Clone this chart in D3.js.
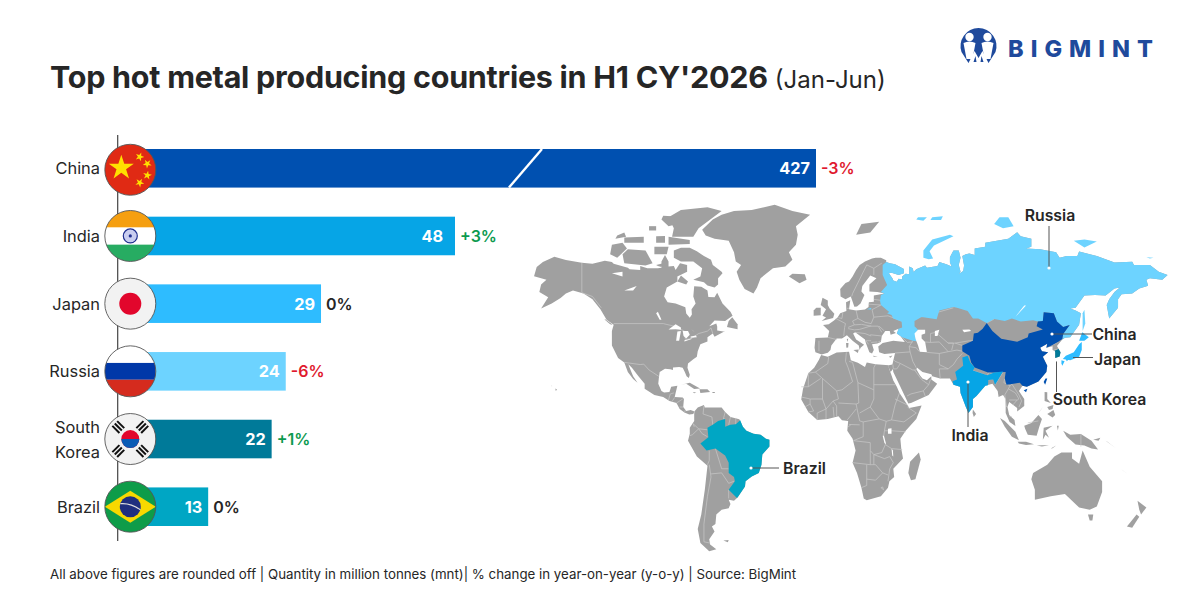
<!DOCTYPE html>
<html>
<head>
<meta charset="utf-8">
<script src="https://cdnjs.cloudflare.com/ajax/libs/d3/7.8.5/d3.min.js"></script>
<style>
  html, body { margin: 0; padding: 0; background: #fff; }
  svg { display: block; font-family: Inter, "Liberation Sans", sans-serif; }
</style>
</head>
<body>
<svg id="chart" width="1200" height="600"></svg>
<script>
// chart values
const countries = ["China", "India", "Japan", "Russia", "South Korea", "Brazil"];
const production = [427, 48, 29, 24, 22, 13];
const changes = ["-3%", "+3%", "0%", "-6%", "+1%", "0%"];
const barColors = ["#0050b0", "#06a5e6", "#2ebcff", "#6dd3ff", "#007a99", "#00a6c4"];

// map shapes, all [lon, lat]
// shared by the eurasia outline and the russia fill
const russiaCoast = [[31,69.8],[33,69.5],[36,69.2],[41,67.8],[41,66.5],[38,66],[34,66.7],[32.5,66.5],[34.5,65],[35,64.3],[37,63.9],[38,64.8],[40,64.6],[40,65.5],[42,66.4],[44,66.2],[44,68.5],[46,68],[46.5,66.9],[48,67.7],[53,68.8],[54,68.2],[60,68.7],[61,69.8],[65,69.2],[68,68.5],[67,69.7],[67,71.2],[69,73],[72,73],[73,71],[72,69],[73,67],[72,66.3],[74.5,67.2],[75,68.8],[74,71.5],[76,72],[78,72.2],[81,71.8],[81,73.5],[87,74],[87,75],[100,76],[105,77.6],[107,76.6],[113,76],[113,74],[110,73.5],[118,73.3],[127,72.5],[129,71],[133,71.5],[139,71.5],[140,72.7],[150,71.5],[160,69.7],[170,69.9],[171,69],[180,69],[185,67],[190,66],[187,64.5],[180,65],[178,64.5],[179,62.6],[174,61.7],[170,60],[164,59.8],[162,58],[162,55],[157,51],[155.6,56],[157,58],[160,60.5],[163,62],[160,61.7],[155,59.3],[149,59.5],[143,59.3],[138,55],[135,54.7],[138,54],[141,53],[140,48.5],[135,43.5],[132,43.3],[130.5,42.5]];

const land = [
  // north america
  [[-168,65.6],[-166.5,68.4],[-163,69.8],[-156.5,71.3],[-150,70.4],[-141,69.6],[-135,69.3],[-128,70.2],[-124,69.8],[-123,69.3],[-115,68.2],[-114,67.7],[-108,67.5],[-108,68.7],[-104,68],[-98,68],[-96,68.2],[-96,70],[-94,71.8],[-92,70],[-92,68.5],[-89,68.7],[-88,67.5],[-85.5,69.5],[-81.5,69],[-81.5,67],[-87,65.5],[-87,64],[-93,62],[-94.5,59],[-92.5,57],[-88,56.5],[-82.5,55.2],[-82,52.9],[-80,51.3],[-78.8,52.5],[-79,54.5],[-76.7,56.5],[-78,59],[-77.5,62.4],[-73.5,62.3],[-70,61],[-69.5,58.8],[-66,58.7],[-64.5,60.3],[-61.5,56.5],[-57,53.5],[-55.8,52],[-60,50],[-66,50.2],[-69,48],[-65,49],[-64.5,47.9],[-64.5,46.2],[-61,45.8],[-60,46],[-66,43.7],[-67,45],[-70,43.5],[-70,41.7],[-74,40.5],[-75.5,37.5],[-76,35],[-78,33.9],[-81,32],[-81.3,30],[-80,26.8],[-80.5,25.2],[-81.8,26],[-82.8,28],[-84,30],[-86,30.4],[-89.5,30.2],[-89.5,29],[-91,29.3],[-94,29.6],[-97,28],[-97.5,25],[-97.8,22.5],[-96,19],[-94.5,18.2],[-91.5,18.5],[-90.5,21],[-87,21.5],[-88,18],[-88.5,16],[-84,15.8],[-83.3,15],[-83.7,11],[-82,9],[-79.5,9.5],[-77.4,8.7],[-78,7.5],[-80.3,7.3],[-83,8.2],[-85.7,10],[-87.5,13],[-91.5,14],[-95,16],[-100,17],[-105.5,20],[-105.5,22.5],[-109,26],[-112.7,30],[-114.7,31.7],[-113,28],[-112,26],[-109.5,23],[-112,24.7],[-115,28],[-117,32.5],[-120.5,34.5],[-124,40],[-124,46],[-123,48.5],[-127,50.5],[-130.5,54.5],[-135,58],[-140,60],[-146,61],[-150,60],[-153,58.5],[-158,56.5],[-164,54.7],[-160,58.7],[-165,60.5],[-164,63],[-161,64.5]],
  // canadian arctic
  [[-61.5,66.5],[-64,65],[-64,63],[-66,62],[-70,62.7],[-72,63.7],[-78,64.5],[-74,65.5],[-73,68],[-78,70],[-85,70],[-89,71],[-89,73],[-85,73.7],[-80,73.7],[-76,72.8],[-72,71.5],[-68,70.5],[-67,69],[-62,67]],
  [[-117,69.5],[-105,68.8],[-101,69.5],[-105,73],[-115,73.3],[-118,72]],
  [[-125,72],[-121,71],[-115.5,73.5],[-118,75],[-124,74.5]],
  [[-90,76.5],[-78,76.5],[-75,78.5],[-62,82.3],[-70,83.1],[-85,82.5],[-92,81],[-89,78.5]],
  [[-92,74.5],[-80,74.7],[-80,75.7],[-92,76.5]],
  [[-117,75],[-106,75],[-106,76.5],[-117,76.3]],
  [[-100,72],[-93,72],[-92,74],[-100,74]],
  [[-96,80.5],[-92,79],[-87,79.5],[-90,81.2],[-95,81.3]],
  [[-99,75],[-94,75],[-94,76.7],[-99,76.6]],
  [[-122,76],[-116,76.5],[-117,77.5],[-121,76.8]],
  [[-103,78],[-99,78],[-99,79],[-103,79]],
  [[-99,69],[-95,69.5],[-96,68.4],[-98,68.7]],
  [[-87,64],[-82,63],[-81,64],[-85,65.8]],
  [[-59,47.7],[-53,46.8],[-53,48.7],[-56,51.5],[-58,50]],
  [[-128,50.8],[-123.5,48.5],[-125,48.7],[-128,50.5]],
  // greenland, iceland, svalbard
  [[-73,78.2],[-71,76.8],[-66,76],[-58,75.5],[-55,72.5],[-54,70],[-51,69],[-53.5,67],[-52,64.5],[-49,61.5],[-44,60],[-42,62],[-40,65],[-33,68],[-26,68.5],[-22,70.5],[-24,72.5],[-20,74.5],[-19,77],[-20,79],[-12,81.5],[-22,82.3],[-32,83.6],[-45,82.5],[-55,82.3],[-62,81.5],[-67,80.5]],
  [[-24,65.5],[-18,63.4],[-14,64.5],[-15,66.2],[-22,66.4]],
  [[14,77],[17,79.5],[27,80],[22,77.5]],
  // caribbean
  [[-85,22],[-80,23],[-74.2,20.2],[-77.5,19.9],[-82,22.5]],
  [[-74.5,19.8],[-70,19.8],[-68.5,18.5],[-74,18]],
  [[-78.3,18.4],[-76.3,18.2],[-77.5,17.8]],
  [[-67.2,18.5],[-65.7,18.4],[-66,18],[-67.2,18]],
  // hawaii
  [[-156,20.2],[-155,19.7],[-155.7,19]],
  [[-158.2,21.6],[-157.7,21.4],[-158,21.3]],
  // south america
  [[-77.4,8.7],[-75.5,10.7],[-72,12],[-71.5,10.8],[-68,10.7],[-62,10.7],[-60,8.5],[-57,6],[-52,4.8],[-50,1],[-48,-1],[-44,-2.5],[-40,-3],[-37,-5],[-35,-5.5],[-35,-9],[-39,-13],[-39.5,-18],[-41,-22],[-45,-23.7],[-48.5,-26],[-48.8,-28.5],[-53,-33.5],[-55,-35],[-58,-34.5],[-57,-36.5],[-58,-38.3],[-62,-39],[-65,-41],[-65.5,-45],[-67.5,-46],[-66,-48],[-69,-51],[-68.5,-53],[-65,-54.8],[-69,-55.5],[-74,-52.5],[-75.5,-47],[-73.5,-41],[-71.5,-30],[-70,-18.5],[-76,-14],[-81,-6],[-80,-2.5],[-80,0.5],[-77.5,4],[-77.5,7]],
  [[-61,-51.5],[-58,-51.3],[-58.5,-52.2]],
  // eurasia
  [[-9,37],[-9.5,39],[-9,43.2],[-2,43.4],[-1.2,46],[-4.7,48.4],[-1.5,48.7],[1.5,50.2],[3.5,51.4],[5,53],[8.5,53.8],[8.3,57],[10.7,57.7],[10,54.5],[14,54],[19,54.4],[21,55.3],[21.2,57],[24,57.2],[24,59.3],[30,60],[26,60.5],[21.5,60.7],[21.5,63],[25.5,65],[22,65.8],[17.5,62.5],[17,60.7],[18.7,59.5],[16.5,56.5],[14.5,55.5],[13,55.4],[11,59],[8,58],[5.2,59],[5,61.5],[8,63.5],[10,64],[12,65.5],[14,67.5],[16,69],[19,70],[23,70.8],[25,71],[28,71],[31,70.3],...russiaCoast,[127.5,39.8],[129.5,37],[129,35.2],[126.5,34.5],[126.5,37.5],[125,38],[125,39.7],[121.5,39],[122,40.7],[118,39],[119,37.5],[122.5,37],[119.5,35],[122,31],[121.5,28],[117,23.5],[110.5,21],[108,21.5],[106,19],[109,15],[109,11.5],[105,8.7],[105,10.5],[100.5,13.5],[99.5,11],[100.5,7],[103.5,4.5],[104,1.4],[100.7,3.5],[98.5,8],[98.5,15],[97,17],[94.5,16],[94,19],[91,22.5],[87,21.5],[82,16.5],[80,15],[80,11],[77.5,8],[76,11],[73,18],[72.7,21],[69,22],[67,25],[61.5,25],[57,26],[56.5,27],[51.5,28],[48.5,30],[48,29.5],[50,26.5],[51.5,25],[54,24.2],[56.5,26],[56.5,24.5],[59.8,22.5],[55,17],[45,13],[43.5,12.7],[39,21],[35,28],[34.8,29.5],[33.5,28],[32.5,30],[32.5,31.2],[34.5,31.5],[36,36.7],[30,36.3],[27,37],[26.5,39.5],[29,41],[35,42],[41.5,41.5],[39,44],[37,45],[38,47],[35,46],[36.5,45.2],[33.5,44.5],[33,46],[30.5,46],[28.5,44],[28,41.5],[26,40.8],[23,40.5],[24,38],[23,36.5],[21.5,37],[19.5,41],[19,42.5],[13.5,45.5],[12.3,45],[14,42.5],[18.5,40.3],[16.5,39],[16,38],[15.5,40],[12,42],[8.8,44.3],[6,43],[3,43],[0,40],[-0.5,38],[-2,36.8],[-5.5,36]],
  // british isles, med islands
  [[-5.5,50],[1,51.2],[1.7,52.8],[-1,54.7],[-2,56],[-2,57.6],[-5,58.6],[-6,56],[-3,54.5],[-5,52],[-3,51.4]],
  [[-10,52],[-6,52.2],[-6,55],[-8.5,55],[-10,54]],
  [[12.5,38],[15.5,38.2],[15,36.7]],
  [[8.3,41],[9.7,41],[9.5,39.1],[8.5,39]],
  [[8.7,42.6],[9.5,43],[9.3,41.5]],
  [[23.5,35.5],[26.3,35.2],[24,35]],
  [[32.4,35],[34.5,35.6],[33.5,34.6]],
  // africa
  [[-5.8,35.8],[-2,35],[3,36.9],[10,37.3],[11,33.5],[15,32.3],[19,30.4],[20,32.5],[25,31.7],[32.5,31.2],[32.5,30],[35,24],[37,21],[38.5,18],[43,12],[44,10.5],[51,11.8],[48,5],[42,-1],[39,-5],[39.5,-10],[40.5,-15],[35,-20],[35.5,-24],[32.8,-26],[32,-29],[28,-33],[20,-34.8],[18.3,-34],[17,-29],[14.5,-22],[12,-17],[13.7,-11],[12,-5],[9,-1],[9.5,4],[6,4.3],[4,6.3],[-2,5],[-8,4.4],[-13,8.5],[-17,14.7],[-16,20],[-13,27.5],[-9.7,30],[-7,33.7]],
  [[49.5,-12],[50.5,-15.5],[47.5,-25],[45,-25.5],[43.5,-22],[44.5,-16.5]],
  // south east asia and oceania
  [[80,9.7],[81.8,7.5],[80.5,6],[79.8,8]],
  [[95.3,5.5],[98,4],[104,-1.5],[106,-5.8],[102,-4],[98,1]],
  [[105.3,-6.5],[110,-6.5],[114.5,-7.8],[110,-8.2],[106,-7.5]],
  [[109,1.5],[113,3],[117,7],[119,5],[117.5,1],[116,-3.5],[111,-3],[109.5,0]],
  [[119.5,-5.5],[120,0.5],[125,1.5],[121,-1],[123,-4.5],[121,-3]],
  [[131,-1],[135,-3],[141,-2.6],[147,-6],[150.7,-10.5],[147,-10],[143,-8.5],[138,-8],[133,-4]],
  [[116,-8.4],[119,-8.3],[123,-8.3],[119,-9]],
  [[124,-10],[127,-8.5],[125,-9.8]],
  [[127.5,1.5],[128.5,1.5],[128,-0.8]],
  [[148,-5.5],[152,-4.5],[151,-6]],
  [[155,-6],[156,-6.5],[158,-8],[161,-10]],
  [[120.5,18.5],[122,18.3],[122,15],[124,13],[120.5,14]],
  [[122,7.5],[125.5,9.5],[126.5,7],[125,5.7]],
  [[122,11],[125.5,12],[125,10],[123,9.5]],
  [[118,9],[119.5,11],[117.5,8.5]],
  [[114,-22],[122,-18],[126,-14],[130,-12],[136,-12],[136,-15],[140,-17.5],[142,-11],[146,-19],[153,-26],[153,-31],[150,-37.5],[146,-39],[140,-38],[136,-35],[132,-32],[124,-33],[115,-34.5],[115,-30],[113,-25]],
  [[145,-41],[148,-41],[147.5,-43.5],[146,-43.5]],
  [[173,-35],[178,-38],[175,-41],[174,-39]],
  [[172.5,-41],[174,-42],[170,-46.5],[167,-46]],
  [[165,-21],[167,-22.3],[164,-20.3]]
];

const russiaShape = [
  [...russiaCoast,[131,44.8],[134.7,48.4],[131,47.7],[127.5,49.8],[125.7,53],[120,53.3],[119.5,50],[116.7,49.8],[114,50.3],[107,49.8],[102,51],[98,50],[92,50.8],[87.8,49.2],[83,51],[80,51],[77,53.8],[71,55],[69,55.3],[61,54],[59.5,50.7],[51,51.6],[47,50],[47,48],[49,46.5],[47.5,45],[47.5,43],[48.5,41.8],[46,42],[40,43.5],[37,45],[38,47],[40,47.5],[39.7,49.7],[35,51],[34,52.3],[31.5,53],[32.7,53.4],[28,56],[27.5,57.5],[28,59.5],[30,60],[28,60.5],[31.5,62.8],[29,66],[29,69]],
  [[142,46],[143.5,49],[143,54.3],[142,53],[142,48]],
  [[52,71],[55,70.6],[57.5,70.8],[55.5,72.8],[58,74.3],[69,76.6],[67,77],[57,75.8],[52,73]],
  [[137,75.5],[143,75.8],[150,75.3],[143,73.8]],
  [[92,79.5],[97,78.5],[103,79],[100,81],[95,81]],
  [[178,71.2],[182,71],[180,70.8]],
  [[48,80.5],[52,80.2],[54,81],[49,81]],
  [[56,80.4],[62,80.4],[63,81.2],[57,81]],
  [[20,54.5],[22.5,55],[22.5,54.4]]
];
const chinaShape = [
  [[134.7,48.4],[131,44.8],[130.5,42.7],[128,41.5],[124.4,40],[121.5,39],[122,40.7],[118,39],[119,37.5],[122.5,37],[119.5,35],[122,31],[121.5,28],[117,23.5],[110.5,21],[108,21.5],[106.5,23],[102,22.3],[99,22],[98,25],[98.5,28],[92,27.8],[88.5,27.8],[81,30.2],[79,32.5],[78,35.5],[74,37.5],[74,40],[80,42],[80.5,45],[82.8,45.3],[85.5,47],[87.8,49.2],[91,46],[96,42.8],[105,41.6],[111,43.5],[111.5,45],[119.5,46.7],[116,48],[116.7,49.8],[119.5,50],[120,53.3],[125.7,53],[127.5,49.8],[131,47.7]],
  [[121,25],[122,25],[120.8,22],[120,23.3]],
  [[108.7,19.3],[110.8,20],[110,18.3]]
];
const indiaShape = [
  [[77,35.5],[78.5,32.5],[81,30.2],[80,28.7],[88.2,26.5],[92,27.8],[97,28.3],[94,24],[92.5,22],[91.5,24.5],[88.7,24.3],[88.5,21.7],[87,21.5],[82,16.5],[80,15],[80,11],[77.5,8],[76,11],[73,18],[72.7,21],[69,22],[68.5,23.7],[71,24.5],[70,28],[74.5,31],[74,34.7]]
];
const japanShape = [
  [[130.8,34],[135,33.5],[140,35],[141.5,38],[141.5,41.5],[140,40.5],[137,37],[132.5,35.5]],
  [[140,42],[141.8,45.5],[145.5,43.5],[143,42]],
  [[130,33.5],[131.8,33],[130.5,31],[130,32]],
  [[132.5,34],[134.5,34.2],[133,33]]
];
const koreaShape = [
  [[126.2,37.7],[128.4,38.5],[129.5,37],[129,35.2],[126.5,34.5],[126.5,37]]
];
const brazilShape = [
  [[-60,5],[-64,4],[-67,2],[-70,0.5],[-69.5,-4.3],[-74,-7.5],[-70.5,-11],[-65.5,-10],[-60,-13.5],[-58,-17],[-58,-22],[-55,-24],[-54.5,-26],[-58,-30],[-53.5,-33.7],[-53,-33.5],[-48.8,-28.5],[-48.5,-26],[-45,-23.7],[-41,-22],[-39.5,-18],[-39,-13],[-35,-9],[-35,-5.5],[-37,-5],[-40,-3],[-44,-2.5],[-48,-1],[-50,1],[-51.5,4.3],[-54,2.3],[-57,2],[-60,1]]
];
const lakes = [
  [[-92,46.7],[-88,48.7],[-85,47.5],[-85,46.5],[-88,46.8]],
  [[-87.7,42],[-86,42],[-85,46],[-87,45.8]],
  [[-84,46],[-81,46],[-80,44.5],[-82,43],[-83.5,44]],
  [[-83,41.7],[-79,42.7],[-79,43],[-83,42.2]],
  [[-79.5,43.3],[-76,43.5],[-76.5,44.2],[-79.5,43.8]],
  [[-98,53.5],[-96,50.5],[-97,50.5],[-99,53]],
  [[-124,66.5],[-118,67],[-118,65.5]],
  [[-117,61],[-110,62.5],[-112,61]],
  [[47,45],[49,46.5],[53,46.5],[53,45],[51,44.5],[51,43],[53,41.5],[54,37],[50,37.3],[49,40],[47.5,43]],
  [[58.5,46],[61,46.5],[60,44],[58.5,44]],
  [[104,51.6],[110,55.8],[109,55.8],[105,52.5]],
  [[74,46.5],[78,46.7],[79,46],[75,45.5]],
  [[32,0],[34,0.3],[34,-2.5],[32,-2.5]],
  [[29,-3.5],[29.7,-3.5],[31,-8],[30,-7]],
  [[34,-10],[34.8,-11],[35,-14],[34.4,-13.5]],
  [[-79.5,47],[-77,45.5],[-78,46]]
];
const borders = [
  // north america
  [[-141,69.6],[-141,60.3],[-135,59],[-130,55]],
  [[-123,49],[-95,49],[-89,48],[-83,46],[-82.5,42.5],[-79,43],[-75,45],[-70,46],[-68,47.3],[-67,45]],
  [[-117,32.5],[-108,31.5],[-106,31.7],[-103,29],[-97.5,26]],
  [[-92,14.5],[-91,17.5],[-89,18]],[[-88.5,15.8],[-90,13.8]],[[-87.5,13],[-84,15]],[[-85.7,11],[-83.7,11]],[[-83,8.2],[-82.5,9.5]],
  // south america
  [[-72,11.5],[-72.5,7.5],[-67.5,6],[-67,2]],[[-60,8.5],[-61,5],[-60,5]],[[-57,6],[-58,2]],[[-54,5.5],[-54,2.3]],
  [[-70,-0.5],[-75,0],[-78,2.5],[-77.5,1]],[[-75,0],[-78.5,-3],[-80,-3.5]],
  [[-70,-4],[-73,-2.5],[-75,0]],[[-69,-11],[-69,-16],[-70,-18]],[[-69,-18],[-68,-24],[-70,-33],[-72,-45],[-72,-52],[-68.5,-52.5]],
  [[-65.5,-10],[-62,-20],[-58,-20]],[[-68,-22.5],[-62,-22],[-58,-27],[-55,-26]],[[-58,-30],[-58,-34]],
  // africa
  [[-1.5,35],[-2,32],[-9,28],[-13,27.5]],[[-9,28],[-5,25],[3,19],[6,19.5],[12,23.5],[9.5,30],[8,33],[8.5,37]],[[-17,21],[-13,21],[-13,27]],[[-13,21],[-6,25]],
  [[10,33],[12,32.5],[15,23],[24,19.5],[24,30],[25,31.7]],[[24,22],[36.5,22]],[[24,19.5],[24,15],[22,11],[27,5],[31,3.8],[34,4.5],[36,12],[38.5,18]],[[15,23],[15.5,13],[14,12.5],[15,8],[16,4],[18,3.5],[18,-4],[12.5,-6]],
  [[3,19],[4,15],[1,14],[3,11.5],[3,6.3]],[[-12,15],[-5,15],[-5,25]],[[-5,15],[-3,10],[-8,8],[-8,4.4]],[[1,14],[-3,10]],[[1,11],[1.5,6]],[[-3,10],[-3,5]],[[-17,16],[-12,15],[-12,12.5],[-15,11]],[[-12,12.5],[-10,9],[-13,8.5]],
  [[4,13],[14,12.5]],[[9,4.5],[11,6.7],[14,10]],[[10,2.2],[16,2]],[[11,2],[9.5,1]],
  [[22,11],[16,8]],[[18,3.5],[27,5]],[[30,-1],[31,3.8]],[[30,-1],[34,-1],[42,-1.5]],[[34,4.5],[41,3.5],[48,8],[43,11]],[[36,15],[43,12]],[[30,-1],[29.5,-4],[30.5,-8],[34,-10],[40,-10.5]],
  [[12.5,-6],[22,-7],[22,-11],[24,-13],[30,-15],[33,-14],[35,-17],[33,-20],[32,-26]],[[12,-17],[22,-18],[25,-18],[29,-22],[32,-23]],[[22,-11],[22,-18]],[[20,-18],[20,-28],[17,-29]],[[20,-25],[25,-25.5],[29,-22]],[[30.5,-8],[28.5,-12],[24,-13]],
  [[28,-29],[29.5,-30],[29,-28.7],[28,-29]],[[24,-13],[24,-18]],
  // europe
  [[-1.8,43.4],[3,42.5]],[[-7,37.5],[-7,42]],[[2.5,51],[8,49],[7.5,47.5],[7,44]],[[6.5,53.3],[6,51],[4,51.3]],[[8.8,54.8],[10,54.8]],[[14,54],[15,51],[12,50],[13,48.5],[9.5,47.5]],[[15,51],[19,49.5],[22.5,49],[24,51.5],[23,54.3]],[[13,48.5],[17,48.7],[22.5,48]],[[9.5,47],[13,46.5],[16,46.7],[22,48],[26.5,48],[28.5,45.5]],[[22,44.5],[28.5,44]],[[13.5,45.5],[19,45],[22.5,44]],[[22.5,41.3],[26,41.5]],[[19.5,42],[22.5,42]],[[21,40.5],[19.5,42]],[[26.5,41.5],[28,42]],[[24,51.5],[32,52],[40,50]],[[23,54.3],[28,56]],[[21,56.3],[28,56]],[[24,58],[27.5,57.7]],[[24,68],[20,69],[12,60],[11.5,59]],[[24,68],[28.5,69.5]],[[24,66],[24,68]],[[30,46],[27,48]],
  // middle east and central asia
  [[36,36.7],[44.5,37.2],[44,39.5],[46,42]],[[44.5,37.2],[46,33],[48,30]],[[36,33],[39,32],[46,29],[48,29]],[[39,32],[37,29.5],[35,29.5]],[[34.8,31.5],[35,29.5]],[[36,33],[35.5,33.5]],[[47,29],[51,24.5],[55,22],[52,19],[45,17.5],[42.8,16.5]],[[52,19],[53,16.5]],[[55,22],[56,24.5]],
  [[53,41.5],[56,41.3],[56,45],[59,45.5],[66,41],[70,41],[74,40]],[[54,37],[61,36.5],[66,37.3],[71,38],[74,37.5]],[[61,36.5],[61,31.5],[66,29.5],[61,29.5],[61.5,25]],[[66,29.5],[69,31.5],[71,34],[74,36.5]],[[66,37.3],[64,39],[61,41.5],[56,41.3]],[[66,41],[69,41],[68,38]],[[70,41],[78,42],[80,42]],[[69,55],[51,51.6]],
  [[44,39.5],[48,39],[49.5,37.5]],[[40,43.5],[43,41.3],[46,41.5]],
  // south asia and south east asia
  [[88,26.4],[80,28.7]],[[88.2,26.5],[89,28],[92,27]],[[88.7,24.3],[92.5,25]],[[92.5,22],[94,24],[97,28]],[[98,25],[97.5,23],[101,21.5],[100,20],[98,17],[99,11]],[[101,21.5],[102,22.3]],[[100,20],[104,18],[106,15],[105,14.5],[102.5,12]],[[102,22.3],[106,17],[107.5,14],[106,11]],[[105,14.5],[100.5,14.5]],[[100.5,6.5],[102,6]],
  [[87.8,49.2],[92,50.8]],[[124.4,40],[128,41.5]],[[125.5,38],[128.4,38.5]],[[111,3],[117,4]],[[141,-2.6],[141,-9]]
];

// map projection: miller on a stretched frame, fitted to the picture
const mapX = d3.scaleLinear().domain([-81, 77.5]).range([688, 968.5]);
const mapY = d3.scaleLinear().domain([0, 1]).range([428.8, 315.8]);
const miller = lat => 1.25 * Math.log(Math.tan(Math.PI / 4 + 0.4 * lat * Math.PI / 180));
const mapLine = d3.line().x(d => mapX(d[0])).y(d => mapY(miller(d[1])));
const ringPath = d => mapLine(d) + "Z";

const svg = d3.select("#chart");

function drawHeader() {
  const title = svg.append("text")
    .attr("x", 50)
    .attr("y", 88)
    .attr("fill", "#262626");
  title.append("tspan")
    .attr("font-size", 30.5)
    .attr("font-weight", 700)
    .attr("letter-spacing", -0.26)
    .text("Top hot metal producing countries in H1 CY'2026");
  title.append("tspan")
    .attr("dx", 7)
    .attr("font-size", 24)
    .attr("font-weight", 400)
    .text("(Jan-Jun)");

  svg.append("text")
    .attr("x", 50)
    .attr("y", 579)
    .attr("font-size", 13.3)
    .attr("fill", "#262626")
    .text("All above figures are rounded off | Quantity in million tonnes (mnt)| % change in year-on-year (y-o-y) | Source: BigMint");
}

function drawLogo() {
  const g = svg.append("g").attr("transform", "translate(978.5,45)");
  const blue = "#1f4a9c";
  g.append("path")
    .attr("d", "M-17,7 A18,18 0 1 1 17,7 L10,18 L4,6 L0,13 L-4,6 L-10,18 Z")
    .attr("fill", blue);
  g.append("path").attr("d", "M-5,17 L-3,11 L-2,17 Z M5,17 L3,11 L2,17 Z").attr("fill", blue);
  [-9, 9].forEach(cx => {
    g.append("circle").attr("cx", cx).attr("cy", -8).attr("r", 4.2).attr("fill", "#fff");
    g.append("path")
      .attr("d", `M${cx - 6},-2 Q${cx},-5 ${cx + 6},-2 L${cx + 3},14 L${cx - 3},14 Z`)
      .attr("fill", "#fff");
  });
  svg.append("text")
    .attr("x", 1008)
    .attr("y", 57)
    .attr("font-size", 23.5)
    .attr("font-weight", 800)
    .attr("textLength", 145)
    .attr("lengthAdjust", "spacing")
    .attr("fill", blue)
    .text("BIGMINT");
}

function drawMap() {
  const g = svg.append("g").attr("class", "map");
  g.append("g").attr("fill", "#a0a0a0")
    .selectAll("path").data(land).join("path").attr("d", ringPath);

  g.append("g").attr("fill", "none").attr("stroke", "#c9c9c9").attr("stroke-width", 0.7)
    .selectAll("path").data(borders).join("path").attr("d", mapLine);

  const shapes = [
    [russiaShape, barColors[3]],
    [chinaShape, barColors[0]],
    [indiaShape, barColors[1]],
    [japanShape, barColors[2]],
    [koreaShape, barColors[4]],
    [brazilShape, barColors[5]]
  ];
  shapes.forEach(([rings, color]) => {
    g.append("g").attr("fill", color)
      .selectAll("path").data(rings).join("path").attr("d", ringPath);
  });

  g.append("g").attr("fill", "#fff")
    .selectAll("path").data(lakes).join("path").attr("d", ringPath);

  // country call-outs, the dot sits at x1,y1
  const callouts = [
    { name: "Russia", lx: 1050, ly: 221, x1: 1049, y1: 268, x2: 1049, y2: 226 },
    { name: "China", lx: 1114.5, ly: 340, x1: 1052, y1: 334, x2: 1092, y2: 334 },
    { name: "Japan", lx: 1117.5, ly: 364.5, x1: 1073, y1: 357.5, x2: 1093, y2: 357.5, nodot: 1 },
    { name: "South Korea", lx: 1099.5, ly: 405, x1: 1056.5, y1: 360, x2: 1056.5, y2: 392 },
    { name: "India", lx: 970, ly: 441, x1: 968, y1: 382, x2: 968, y2: 427 },
    { name: "Brazil", lx: 804.5, ly: 473.5, x1: 751, y1: 468, x2: 779, y2: 468 }
  ];
  const c = svg.append("g").attr("class", "callouts");
  c.selectAll("line").data(callouts).join("line")
    .attr("x1", d => d.x1).attr("y1", d => d.y1)
    .attr("x2", d => d.x2).attr("y2", d => d.y2)
    .attr("stroke", "#555").attr("stroke-width", 1);
  c.selectAll("circle").data(callouts.filter(d => !d.nodot)).join("circle")
    .attr("cx", d => d.x1)
    .attr("cy", d => d.y1)
    .attr("r", 1.6).attr("fill", "#fff");
  c.selectAll("text").data(callouts).join("text")
    .attr("x", d => d.lx).attr("y", d => d.ly)
    .attr("text-anchor", "middle")
    .attr("font-size", 15.8).attr("font-weight", 600).attr("fill", "#262626")
    .text(d => d.name);
}

function drawFlag(name, g, r) {
  const rect = (x, y, w, h, fill) => g.append("rect").attr("x", x).attr("y", y).attr("width", w).attr("height", h).attr("fill", fill);
  const star = (cx, cy, size, rot) => g.append("path")
    .attr("d", d3.symbol(d3.symbolStar, size * size * 2.4)())
    .attr("transform", `translate(${cx},${cy}) rotate(${rot})`)
    .attr("fill", "#ffe000");
  if (name == "China") {
    rect(-r, -r, 2 * r, 2 * r, "#e02a14");
    star(-9, -2, 9, 0);
    star(9.4, -13, 3.2, 20);
    star(17, -6, 3.2, 40);
    star(17, 5.5, 3.2, 10);
    star(9.4, 13, 3.2, 30);
  } else if (name == "India") {
    rect(-r, -r, 2 * r, 2 * r, "#fff");
    rect(-r, -r, 2 * r, r * 0.66, "#f59f10");
    rect(-r, r * 0.34, 2 * r, r * 0.66, "#27ac62");
    g.append("circle").attr("r", 7).attr("fill", "#c9cdf0").attr("stroke", "#1f2f8f").attr("stroke-width", 1.2);
    g.append("circle").attr("r", 1.6).attr("fill", "#1f2f8f");
  } else if (name == "Japan") {
    rect(-r, -r, 2 * r, 2 * r, "#f2f2f2");
    g.append("circle").attr("r", 11).attr("fill", "#e2062c");
  } else if (name == "Russia") {
    rect(-r, -r, 2 * r, 2 * r, "#fff");
    rect(-r, -r * 0.33, 2 * r, r * 0.66, "#0038a8");
    rect(-r, r * 0.33, 2 * r, r * 0.67, "#d52b1e");
  } else if (name == "South Korea") {
    rect(-r, -r, 2 * r, 2 * r, "#f2f2f2");
    g.append("circle").attr("r", 9).attr("fill", "#e2062c");
    g.append("path").attr("d", "M-9,0 A9,9 0 0 0 9,0 Z").attr("fill", "#0a5bb5");
    [[-12, -12, 45], [12, -12, -45], [-12, 12, -45], [12, 12, 45]].forEach(([cx, cy, rot]) => {
      [-3.4, 0, 3.4].forEach(dy => {
        g.append("rect").attr("x", -5).attr("y", dy - 1).attr("width", 10).attr("height", 2)
          .attr("fill", "#111")
          .attr("transform", `translate(${cx},${cy}) rotate(${rot})`);
      });
    });
  } else if (name == "Brazil") {
    rect(-r, -r, 2 * r, 2 * r, "#0e9c49");
    g.append("path").attr("d", `M${-r},0 L0,-16 L${r},0 L0,16 Z`).attr("fill", "#f7d800");
    g.append("circle").attr("r", 10.5).attr("fill", "#1f2f7f");
    g.append("path").attr("d", "M-10,-3 Q0,-4 10,3").attr("stroke", "#ddd").attr("stroke-width", 1.2).attr("fill", "none");
  }
}

function drawBars() {
  // x scale is broken past india so china fits
  const x = d3.scaleLinear().domain([0, 48, 427]).range([116.5, 455, 816]);
  const y = d3.scaleBand().domain(countries).range([149, 526]).paddingInner(0.43);
  const rows = countries.map((name, i) => ({ name, value: production[i], change: changes[i], color: barColors[i] }));

  svg.append("line")
    .attr("x1", 117.7).attr("x2", 117.7)
    .attr("y1", 135).attr("y2", 541)
    .attr("stroke", "#444").attr("stroke-width", 1.2);

  svg.append("g").attr("class", "bars")
    .selectAll("rect").data(rows).join("rect")
    .attr("x", x(0))
    .attr("y", d => y(d.name))
    .attr("width", d => x(d.value) - x(0))
    .attr("height", y.bandwidth())
    .attr("fill", d => d.color);

  // axis break on the china bar
  svg.append("line")
    .attr("x1", 509).attr("x2", 542)
    .attr("y1", y("China") + y.bandwidth()).attr("y2", y("China"))
    .attr("stroke", "#fff").attr("stroke-width", 2.4);

  svg.append("g").attr("class", "bar-values")
    .selectAll("text").data(rows).join("text")
    .attr("x", d => x(d.value) - (d.name == "India" ? 12 : 6))
    .attr("y", d => y(d.name) + y.bandwidth() / 2 + 6)
    .attr("text-anchor", "end")
    .attr("font-size", 16.3).attr("font-weight", 700).attr("fill", "#fff")
    .text(d => d.value);

  svg.append("g").attr("class", "bar-changes")
    .selectAll("text").data(rows).join("text")
    .attr("x", d => x(d.value) + 5)
    .attr("y", d => y(d.name) + y.bandwidth() / 2 + 6)
    .attr("font-size", 16).attr("font-weight", 600)
    .attr("fill", d => d.change[0] == "-" ? "#e0192e" : d.change[0] == "+" ? "#0c9a4f" : "#262626")
    .text(d => d.change);

  // names left of the flags
  const labels = svg.append("g").attr("class", "bar-cats")
    .selectAll("text").data(rows).join("text")
    .attr("x", 100)
    .attr("y", d => y(d.name) + y.bandwidth() / 2 + 6)
    .attr("text-anchor", "end")
    .attr("font-size", 16.4).attr("fill", "#262626");
  labels.filter(d => d.name != "South Korea").text(d => d.name);
  const sk = labels.filter(d => d.name == "South Korea");
  sk.append("tspan").attr("x", 100).attr("dy", -12.5).text("South");
  sk.append("tspan").attr("x", 100).attr("dy", 25).text("Korea");

  const flags = svg.append("g").attr("class", "flags")
    .selectAll("g").data(rows).join("g")
    .attr("transform", d => `translate(130.3,${y(d.name) + y.bandwidth() / 2 + (d.name == "China" ? 1.5 : 0)})`);
  const r = 25.5;
  flags.each(function(d, i) {
    const g = d3.select(this);
    g.append("clipPath").attr("id", "flag-" + i).append("circle").attr("r", r);
    const inner = g.append("g").attr("clip-path", `url(#flag-${i})`);
    drawFlag(d.name, inner, r);
    g.append("circle").attr("r", r).attr("fill", "none").attr("stroke", "#555").attr("stroke-width", 0.9);
  });
}

drawMap();
drawBars();
drawHeader();
drawLogo();
</script>
</body>
</html>
